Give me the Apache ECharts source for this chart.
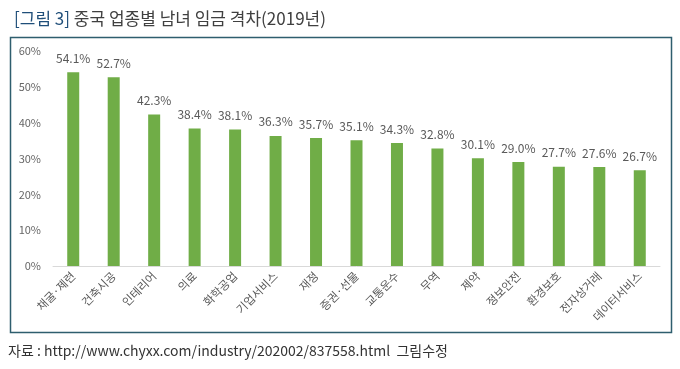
<!DOCTYPE html>
<html><head><meta charset="utf-8">
<script src="https://cdn.jsdelivr.net/npm/echarts@6/dist/echarts.min.js"></script>
<style>html,body{margin:0;padding:0;background:#fff}#c{width:680px;height:369px}</style>
</head><body><div id="c"></div>
<script>
const categories = ['채굴·제련','건축시공','인테리어','의료','화학공업','기업서비스','재정','증권·선물','교통운수','무역','제약','정보안전','환경보호','전자상거래','데이터서비스'];
const values = [54.1,52.7,42.3,38.4,38.1,36.3,35.7,35.1,34.3,32.8,30.1,29.0,27.7,27.6,26.7];
const yTicks = [0,10,20,30,40,50,60];
const titlePrefix = '[그림 3]';
const titleText = ' 중국 업종별 남녀 임금 격차(2019년)';
const sourceText = '자료 : http://www.chyxx.com/industry/202002/837558.html  그림수정';

const chart = echarts.init(document.getElementById('c'));
const font = '"Noto Sans CJK KR", "Noto Sans", sans-serif';
chart.setOption({
  animation: false,
  textStyle: {fontFamily: font},
  title: {
    left: 9, top: 5,
    text: '{a|' + titlePrefix + '}{b|' + titleText + '}',
    textStyle: {fontWeight: 'normal', rich: {
      a: {fontSize: 17, color: '#1f4e79', fontFamily: font, fontWeight: 'normal'},
      b: {fontSize: 17, color: '#404040', fontFamily: font, fontWeight: 'normal'}
    }}
  },
  graphic: [
    {type: 'rect', shape: {x: 10.5, y: 37.5, width: 661, height: 295}, style: {fill: 'none', stroke: '#2e5e6e', lineWidth: 1.5}, silent: true},
    {type: 'text', left: 8, top: 344, style: {text: sourceText, fontSize: 14, fill: '#333', fontFamily: font}}
  ],
  grid: {left: 53, right: 20, top: 51, bottom: 103, containLabel: false},
  xAxis: {
    type: 'category', data: categories,
    axisLine: {lineStyle: {color: '#d9d9d9'}},
    axisTick: {show: false},
    axisLabel: {rotate: 45, interval: 0, fontSize: 11.5, color: '#595959', margin: 8}
  },
  yAxis: {
    type: 'value', min: yTicks[0], max: yTicks[yTicks.length-1], interval: 10,
    axisLine: {show: false}, axisTick: {show: false},
    splitLine: {show: false},
    axisLabel: {formatter: '{value}%', fontSize: 11, color: '#666', margin: 12}
  },
  series: [{
    type: 'bar', data: values, barWidth: 12,
    itemStyle: {color: '#70ad47'},
    label: {show: true, position: 'top', distance: 8, fontSize: 12, color: '#595959', formatter: p => p.value.toFixed(1) + '%'}
  }]
});
</script></body></html>
